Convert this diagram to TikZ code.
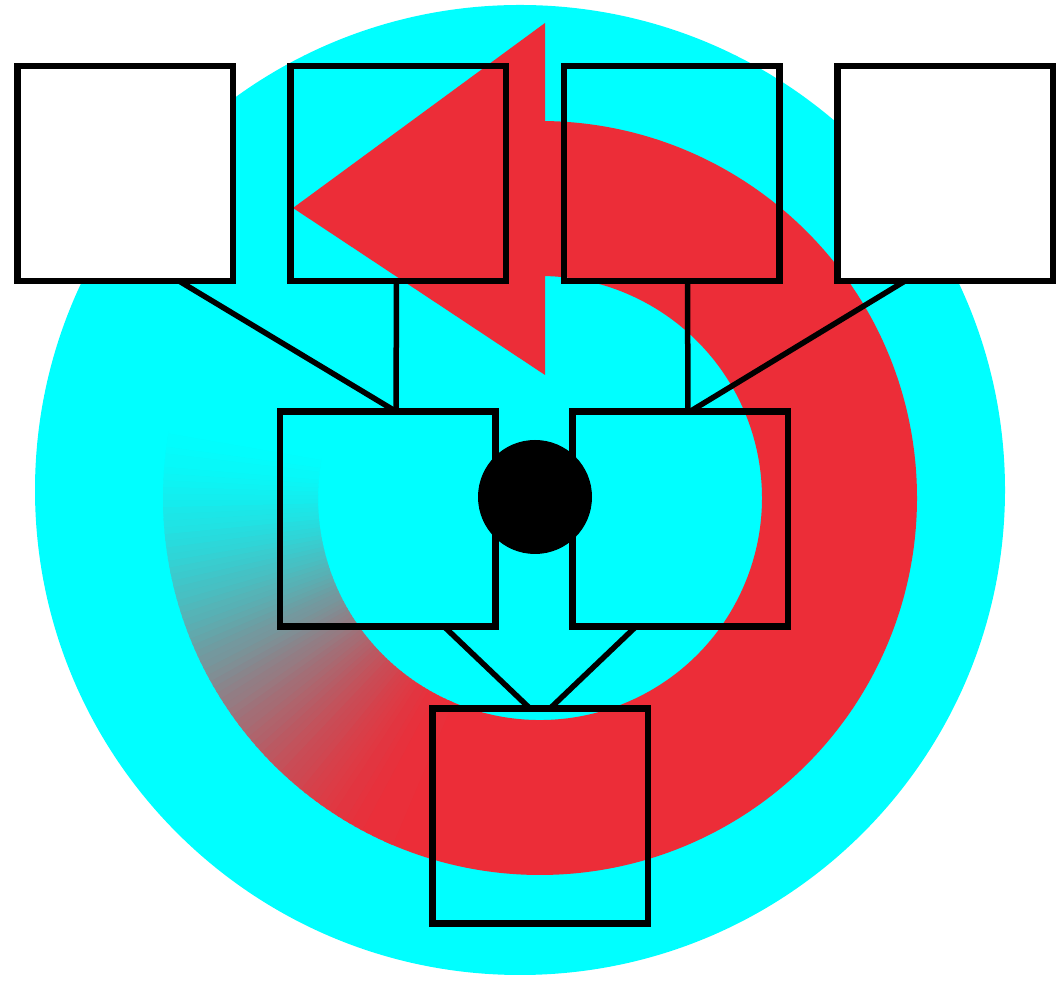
\documentclass[tikz,border=0pt]{standalone}
\usetikzlibrary{calc}
\definecolor{ringred}{RGB}{236,45,56}
\definecolor{bgcyan}{RGB}{0,255,255}
\begin{document}
\begin{tikzpicture}[x=1pt,y=1pt,
  box/.style={draw=black,line width=6.5pt,minimum width=215.5pt,minimum height=215pt,inner sep=0pt,outer sep=0pt},
  link/.style={draw=black,line width=5.5pt}]
\useasboundingbox (0,0) rectangle (1057,981);
\fill[white] (0,0) rectangle (1057,981);
% cyan disc
\fill[bgcyan] (520,491) circle[radius=485];
% red ring arrow
\begin{scope}[shift={(540,483)}]
  \fill[ringred] (90:377) arc[start angle=90,end angle=-114,radius=377]
     -- (-114:222) arc[start angle=-114,end angle=90,radius=222] -- cycle;
  \foreach \i in {0,...,79}{
    \pgfmathsetmacro\a{-113-\i*82/80}
    \pgfmathsetmacro\b{\a-82/80-0.4}
    \pgfmathsetmacro\t{(\i+0.5)/80}
    \pgfmathtruncatemacro\p{100*(1-\t*\t*(3-2*\t))}
    \fill[ringred!\p!bgcyan] (\a:377) arc[start angle=\a,end angle=\b,radius=377]
       -- (\b:222) arc[start angle=\b,end angle=\a,radius=222] -- cycle;
  }
\end{scope}
\fill[ringred] (545,958) -- (293,773) -- (545,606) -- cycle;
% boxes
\node[box,fill=white] (b1) at (125,807.5) {};
\node[box] (b2) at (398,807.5) {};
\node[box] (b3) at (671.5,807.5) {};
\node[box,fill=white] (b4) at (945,807.5) {};
\node[box] (b5) at (387.5,462) {};
\node[box] (b6) at (680,462) {};
\node[box] (b7) at (540,165) {};
\node[circle,fill=black,minimum size=114pt,inner sep=0pt] (dot) at (535,484) {};
% connectors
\draw[link] ([xshift=54pt]b1.south) -- ([xshift=8.5pt]b5.north);
\draw[link] ([xshift=-1.5pt]b2.south) -- ([xshift=8.5pt]b5.north);
\draw[link] ([xshift=16pt]b3.south) -- ([xshift=8pt]b6.north);
\draw[link] ([xshift=-40pt]b4.south) -- ([xshift=10pt]b6.north);
\draw[link] ([xshift=56.5pt]b5.south) -- ([xshift=-10pt]b7.north);
\draw[link] ([xshift=-44pt]b6.south) -- ([xshift=10pt]b7.north);
\end{tikzpicture}
\end{document}
